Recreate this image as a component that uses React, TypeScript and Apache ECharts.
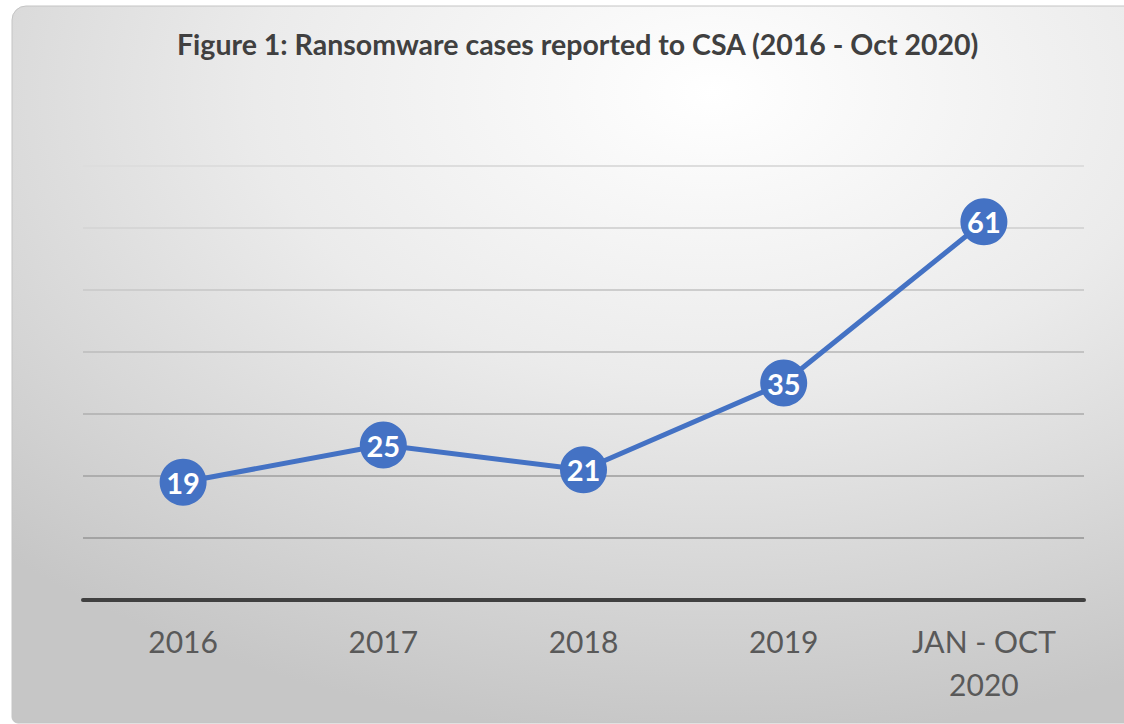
import React, { useEffect, useRef } from "react";
import * as echarts from "echarts";

const categories = ["2016", "2017", "2018", "2019", "JAN - OCT\n2020"];
const cases = [19, 25, 21, 35, 61];
const titleText = "Figure 1: Ransomware cases reported to CSA (2016 - Oct 2020)";
const gridLineColors = ["#a3a3a3", "#a3a3a3", "#adadad", "#b8b8b8", "#c3c3c3", "#cdcdcd", "#d6d6d6", "#dddddd"];

export default function App() {
  const ref = useRef<HTMLDivElement>(null);
  useEffect(() => {
    if (!ref.current) return;
    const chart = echarts.init(ref.current, null, { renderer: "svg" });
    chart.setOption({
      animation: false,
      backgroundColor: "#ffffff",
      graphic: [
        {
          type: "rect",
          z: -10,
          silent: true,
          shape: { x: 12, y: 6, width: 1130, height: 717, r: [14, 0, 0, 6] },
          style: {
            fill: new echarts.graphic.RadialGradient(0.62, 0.12, 0.9, [
              { offset: 0, color: "#ffffff" },
              { offset: 0.45, color: "#ebebeb" },
              { offset: 1, color: "#c6c6c6" },
            ]),
            stroke: "#c4c4c4",
            lineWidth: 1,
          },
        },
      ],
      title: {
        text: titleText,
        left: 172,
        top: 24,
        textStyle: {
          fontFamily: "Lato",
          fontSize: 28.5,
          fontWeight: "bold",
          color: "#404040",
        },
      },
      grid: { left: 83, right: 40, top: 166, bottom: 124 },
      xAxis: {
        type: "category",
        data: categories,
        boundaryGap: true,
        axisTick: { show: false },
        axisLine: { lineStyle: { color: "#404040", width: 4 } },
        axisLabel: {
          fontFamily: "Lato",
          fontSize: 30,
          color: "#595959",
          margin: 19,
          lineHeight: 43,
          interval: 0,
        },
      },
      yAxis: {
        type: "value",
        min: 0,
        max: 70,
        interval: 10,
        axisLabel: { show: false },
        axisLine: { show: false },
        axisTick: { show: false },
        splitLine: { lineStyle: { color: gridLineColors, width: 2 } },
      },
      series: [
        {
          type: "line",
          data: cases,
          symbol: "circle",
          symbolSize: 47,
          itemStyle: { color: "#4472c4" },
          lineStyle: { color: "#4472c4", width: 5 },
          label: {
            show: true,
            position: "inside",
            color: "#ffffff",
            fontFamily: "Lato",
            fontWeight: "bold",
            fontSize: 29,
          },
        },
      ],
    });
    return () => chart.dispose();
  }, []);
  return (
    <div
      ref={ref}
      style={{ position: "absolute", left: 0, top: 0, width: 1124, height: 724 }}
    />
  );
}
